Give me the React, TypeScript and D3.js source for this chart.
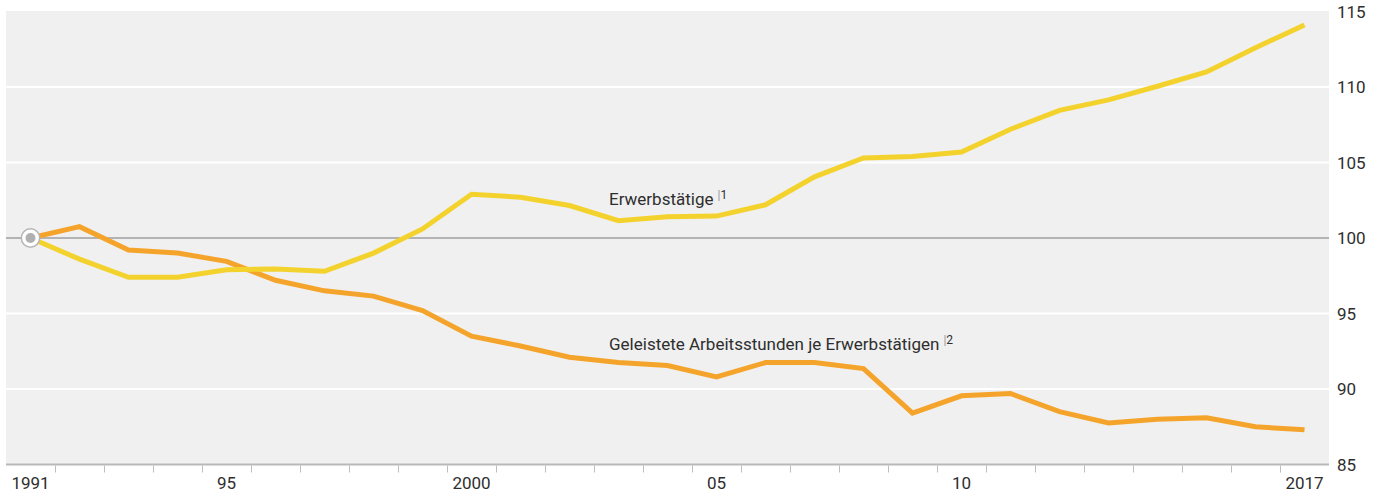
import React from "react";
import * as d3 from "d3";

const years = [1991, 1992, 1993, 1994, 1995, 1996, 1997, 1998, 1999, 2000, 2001, 2002, 2003, 2004, 2005, 2006, 2007, 2008, 2009, 2010, 2011, 2012, 2013, 2014, 2015, 2016, 2017];

const erwerbstaetige = [100, 98.6, 97.4, 97.4, 97.9, 97.95, 97.8, 99.0, 100.6, 102.9, 102.7, 102.15, 101.15, 101.4, 101.45, 102.2, 104.05, 105.3, 105.4, 105.7, 107.2, 108.45, 109.15, 110.05, 111.0, 112.6, 114.1];

const arbeitsstunden = [100, 100.75, 99.2, 99.0, 98.45, 97.2, 96.5, 96.15, 95.2, 93.5, 92.85, 92.1, 91.75, 91.55, 90.8, 91.75, 91.75, 91.35, 88.4, 89.55, 89.7, 88.5, 87.75, 88.0, 88.1, 87.5, 87.3];

const yTicks = [85, 90, 95, 100, 105, 110, 115];
const xLabelYears = [1991, 1995, 2000, 2005, 2010, 2017];
const xLabelTexts = ["1991", "95", "2000", "05", "10", "2017"];

const seriesLabel1 = "Erwerbstätige";
const seriesNote1 = "1";
const seriesLabel2 = "Geleistete Arbeitsstunden je Erwerbstätigen";
const seriesNote2 = "2";

const W = 1383;
const H = 497;
const FONT = "Roboto, 'Open Sans', sans-serif";

export default function App() {
  const x = d3.scaleBand<number>().domain(years).range([6, 1329]).paddingInner(0).paddingOuter(0);
  const bw = x.bandwidth();
  const cx = (yr: number) => (x(yr) as number) + bw / 2;
  const y = d3.scaleLinear().domain([85, 115]).range([464.5, 11.5]);

  const line = d3
    .line<number>()
    .x((_, i) => cx(years[i]))
    .y((d) => y(d));

  const textColor = "#2e2e2e";

  return (
    <div style={{ position: "absolute", left: 0, top: 0 }}>
      <svg width={W} height={H} style={{ display: "block" }}>
        <rect x={6} y={11} width={1323} height={y(85) - 11} fill="#f0f0f0" />
        {yTicks
          .filter((v) => v !== 85 && v !== 100 && v !== 115)
          .map((v) => (
            <line key={v} x1={6} x2={1329} y1={y(v)} y2={y(v)} stroke="#ffffff" strokeWidth={2} />
          ))}
        <line x1={6} x2={1329} y1={y(100)} y2={y(100)} stroke="#b3b3b3" strokeWidth={2} />
        <line x1={6} x2={1329} y1={y(85)} y2={y(85)} stroke="#b9b9b9" strokeWidth={2} />
        {years.slice(1).map((yr) => (
          <line
            key={yr}
            x1={(x(yr) as number) + 0.5}
            x2={(x(yr) as number) + 0.5}
            y1={y(85) + 1}
            y2={y(85) + 8}
            stroke="#bdbdbd"
            strokeWidth={1}
          />
        ))}
        <path
          d={line(arbeitsstunden) || ""}
          fill="none"
          stroke="#f5a42b"
          strokeWidth={5}
          strokeLinejoin="miter"
          strokeLinecap="butt"
        />
        <path
          d={line(erwerbstaetige) || ""}
          fill="none"
          stroke="#f4d22e"
          strokeWidth={5}
          strokeLinejoin="miter"
          strokeLinecap="butt"
        />
        <circle cx={cx(1991)} cy={y(100)} r={9.2} fill="#ffffff" stroke="#b5b5b5" strokeWidth={1.5} />
        <circle cx={cx(1991)} cy={y(100)} r={5} fill="#b0b0b0" />

        {yTicks.map((v) => (
          <text
            key={v}
            x={1337}
            y={y(v)}
            dominantBaseline="central"
            fontFamily={FONT}
            fontSize={17}
            fill={textColor}
          >
            {v}
          </text>
        ))}
        {xLabelYears.map((yr, i) => (
          <text
            key={yr}
            x={cx(yr)}
            y={489}
            textAnchor="middle"
            fontFamily={FONT}
            fontSize={17}
            fill={textColor}
          >
            {xLabelTexts[i]}
          </text>
        ))}

        <text x={609} y={205} fontFamily={FONT} fontSize={17} fill={textColor}>
          {seriesLabel1}
          <tspan dx={4} dy={-6} fontSize={12} fill="#999">|</tspan>
          <tspan fontSize={12}>{seriesNote1}</tspan>
        </text>
        <text x={609} y={350} fontFamily={FONT} fontSize={17} fill={textColor}>
          {seriesLabel2}
          <tspan dx={4} dy={-6} fontSize={12} fill="#999">|</tspan>
          <tspan fontSize={12}>{seriesNote2}</tspan>
        </text>
      </svg>
    </div>
  );
}
